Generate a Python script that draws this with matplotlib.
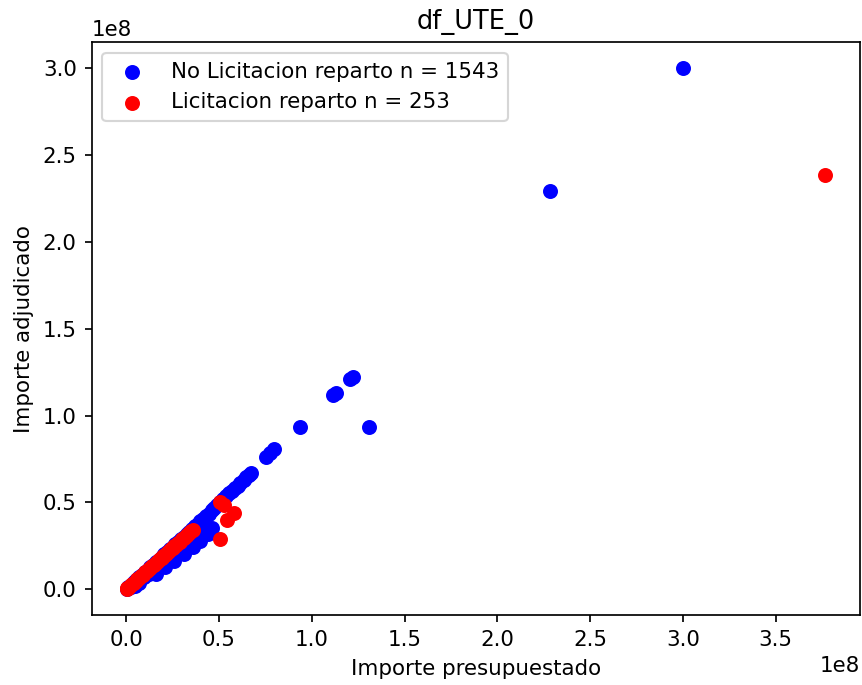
import numpy as np
import matplotlib
matplotlib.use("Agg")
import matplotlib.pyplot as plt

# Importes in millions of euros
no_rep_presupuestado = [
    300, 228.3, 122.2, 120.5, 112.8, 111.5, 130.9, 93.9, 79.8, 77.5, 75.5,
    67, 66, 64.5, 63.2, 61.5, 60, 58.5, 57, 55.5, 54, 52.3, 50.5, 49, 47.5,
    46, 44.5, 43, 41.5, 40, 38.5, 37, 35.5, 34, 32.5, 31, 29.5, 28, 26.5,
    25, 23.5, 22, 20.5, 19, 17.5, 16, 14.5, 13, 11.5, 10, 8.5, 7, 5.5, 4,
    2.5, 1, 0.3,
    43, 40.5, 38.2, 35, 32, 29.6, 26.5, 23, 20, 17.5, 14.8, 12, 9.5, 6.7,
    4.5, 2.5,
    46, 44, 40, 36, 31, 26, 21, 16,
]
no_rep_adjudicado = [
    300, 229.6, 122.1, 120.8, 113.2, 112, 93.6, 93.6, 80.9, 78.2, 76.3,
    66.7, 65.8, 64.5, 62.8, 61.2, 59.5, 58.3, 56.8, 55.5, 53.8, 52, 50.3,
    48.5, 46.8, 45.3, 43.5, 42, 40.6, 39.5, 37.8, 36.4, 34.8, 33.2, 31.8,
    30.3, 28.9, 27.4, 25.9, 24.4, 22.9, 21.4, 20, 18.5, 17, 15.5, 14.1,
    12.6, 11.2, 9.7, 8.3, 6.8, 5.3, 3.9, 2.4, 1, 0.3,
    36, 34.8, 32.2, 29.5, 26.5, 24.1, 21.2, 17.7, 15.3, 13.2, 11.4, 9,
    7, 3.3, 2, 1.2,
    35, 32, 28, 24, 20, 16, 12.5, 9,
]

rep_presupuestado = [
    376.6, 50.7, 52.5, 57.8, 54.1, 50.7,
    0.2, 0.5, 1, 2, 3, 4, 5, 6, 7, 8, 9, 10, 11, 12, 13, 14, 15, 16, 17,
    18, 19, 20, 21, 22, 23, 24, 25, 26, 27, 28, 29, 30, 31, 32, 33, 34,
    35, 36,
]
rep_adjudicado = [
    238.8, 50.2, 48.5, 43.9, 39.7, 29.1,
    0.1, 0.5, 0.9, 1.9, 2.7, 3.8, 4.6, 5.8, 6.5, 7.6, 8.4, 9.6, 10.3, 11.5,
    12.2, 13.4, 14, 15.3, 16.1, 17.2, 17.9, 19, 19.8, 21, 21.7, 23, 23.5,
    24.8, 25.5, 26.8, 27.4, 28.7, 29.5, 30.6, 31.3, 32.5, 33.5, 34.2,
]

n_no_rep = 1543
n_rep = 253

DPI = 154
fig = plt.figure(figsize=(862 / DPI, 685 / DPI), dpi=DPI)
ax = fig.add_axes([91.7 / 862, 1 - 615 / 685, (860 - 91.7) / 862, (615 - 42.3) / 685])

ax.scatter(np.array(no_rep_presupuestado) * 1e6, np.array(no_rep_adjudicado) * 1e6,
           color="blue", label=f"No Licitacion reparto n = {n_no_rep}")
ax.scatter(np.array(rep_presupuestado) * 1e6, np.array(rep_adjudicado) * 1e6,
           color="red", label=f"Licitacion reparto n = {n_rep}")

ax.set_title("df_UTE_0")
ax.set_xlabel("Importe presupuestado")
ax.set_ylabel("Importe adjudicado")
ax.legend(loc="upper left")

fig.savefig("out.png", dpi=DPI)
